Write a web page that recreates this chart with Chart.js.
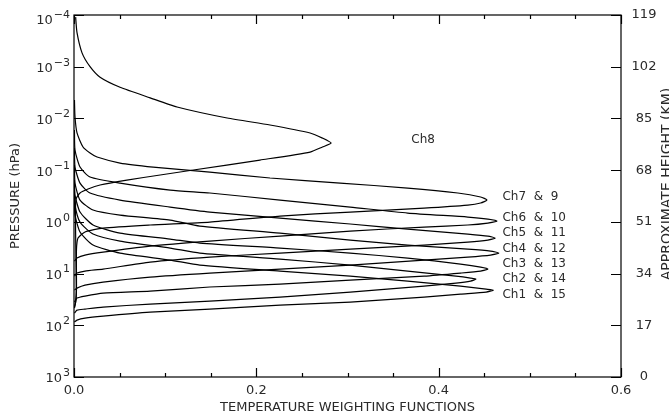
<!DOCTYPE html>
<html>
<head>
<meta charset="utf-8">
<script src="https://cdn.jsdelivr.net/npm/chart.js@4.4.1/dist/chart.umd.min.js"></script>
<style>
  html, body { margin: 0; padding: 0; background: #fff; }
  #wrap { width: 669px; height: 418px; }
</style>
</head>
<body>
<div id="wrap"><canvas id="wf" width="669" height="418"></canvas></div>
<script>
// weighting functions: pressure levels (hPa) and weights per channel group
const ch8P = [1.1e-4, 2.2e-4, 5.4e-4, 1.0e-3, 1.6e-3, 2.5e-3, 4.0e-3, 6.0e-3, 9.8e-3, 0.0134, 0.0191, 0.024, 0.030, 0.0357, 0.0447, 0.0638, 0.0995, 0.124, 0.156, 0.194, 0.232, 0.277, 0.362, 0.738, 3.51, 16.7, 32.6, 44.5];
const ch8W = [0.0018, 0.0033, 0.0088, 0.0176, 0.0286, 0.0505, 0.0835, 0.113, 0.168, 0.215, 0.259, 0.2725, 0.282, 0.2725, 0.259, 0.204, 0.131, 0.0945, 0.058, 0.0286, 0.0154, 0.0066, 0.0022, 0.0016, 0.002, 0.0025, 0.0022, 0.0005];

const ch7P = [0.0044, 0.0094, 0.0191, 0.0357, 0.0467, 0.0558, 0.0729, 0.0871, 0.109, 0.142, 0.178, 0.222, 0.277, 0.331, 0.378, 0.432, 0.473, 0.541, 0.646, 0.772, 1.01, 1.15, 1.32, 1.57, 2.06, 3.51, 20.9, 37.2, 46.5];
const ch7W = [0.0005, 0.0011, 0.0033, 0.0099, 0.0176, 0.0253, 0.0505, 0.0868, 0.149, 0.215, 0.292, 0.366, 0.421, 0.446, 0.453, 0.446, 0.432, 0.384, 0.303, 0.226, 0.149, 0.0835, 0.0319, 0.0121, 0.0044, 0.0027, 0.0027, 0.0016, 0.0005];

const ch6P = [0.0167, 0.0408, 0.0871, 0.136, 0.178, 0.243, 0.277, 0.379, 0.517, 0.676, 0.807, 0.883, 0.966, 1.055, 1.15, 1.26, 1.51, 1.88, 2.35, 2.94, 3.84, 4.39, 5.01, 5.73];
const ch6W = [0.0005, 0.0011, 0.0066, 0.0176, 0.0505, 0.1055, 0.149, 0.226, 0.303, 0.366, 0.432, 0.454, 0.464, 0.454, 0.432, 0.384, 0.303, 0.226, 0.149, 0.0835, 0.0319, 0.0121, 0.0033, 0.0005];

const ch5P = [0.0374, 0.0871, 0.178, 0.277, 0.379, 0.517, 0.646, 0.845, 1.10, 1.38, 1.72, 1.88, 2.06, 2.25, 2.46, 2.81, 3.36, 4.01, 4.80, 6.00, 8.19, 8.95, 9.78, 11.2];
const ch5W = [0.0005, 0.0011, 0.0066, 0.0176, 0.0505, 0.1055, 0.149, 0.226, 0.303, 0.366, 0.432, 0.454, 0.462, 0.454, 0.432, 0.384, 0.303, 0.226, 0.149, 0.0835, 0.0319, 0.0121, 0.0033, 0.0005];

const ch4P = [0.0796, 0.178, 0.379, 0.591, 0.738, 0.923, 1.21, 1.65, 2.25, 2.81, 3.36, 3.67, 4.02, 4.39, 4.80, 5.48, 6.85, 8.19, 9.78, 11.7, 14.6, 16.7, 19.1, 20.9];
const ch4W = [0.0005, 0.0011, 0.0066, 0.0209, 0.0505, 0.1055, 0.138, 0.226, 0.303, 0.366, 0.432, 0.457, 0.466, 0.457, 0.432, 0.384, 0.303, 0.226, 0.149, 0.0835, 0.0319, 0.0121, 0.0033, 0.0005];

const ch3P = [0.155, 0.303, 0.646, 1.15, 1.65, 2.15, 2.57, 3.21, 4.02, 5.01, 6.55, 7.48, 8.19, 8.95, 9.78, 11.2, 13.4, 16.0, 18.2, 21.8, 23.8, 27.2, 29.8, 35.6];
const ch3W = [0.0005, 0.0011, 0.0066, 0.0209, 0.0505, 0.1055, 0.138, 0.226, 0.303, 0.366, 0.424, 0.446, 0.454, 0.446, 0.424, 0.384, 0.303, 0.226, 0.149, 0.0835, 0.0319, 0.0121, 0.0033, 0.0005];

const ch2P = [0.243, 0.473, 1.01, 1.72, 2.35, 3.21, 4.02, 5.25, 6.85, 8.95, 11.2, 12.2, 12.8, 14.0, 15.3, 17.5, 22.8, 28.5, 34.0, 38.9, 44.5, 48.6, 50.8, 58.1];
const ch2W = [0.0005, 0.0011, 0.0066, 0.0209, 0.0505, 0.1055, 0.138, 0.226, 0.303, 0.366, 0.419, 0.435, 0.441, 0.435, 0.419, 0.384, 0.303, 0.226, 0.149, 0.0835, 0.0319, 0.0121, 0.0033, 0.0005];

const ch1P = [0.379, 0.738, 1.57, 2.81, 4.02, 5.48, 6.85, 8.95, 11.2, 14.0, 17.5, 20.0, 20.9, 22.8, 24.9, 28.5, 35.6, 40.6, 48.6, 55.6, 66.4, 72.6, 79.3, 86.7];
const ch1W = [0.0005, 0.0011, 0.0066, 0.0209, 0.0505, 0.1055, 0.138, 0.226, 0.303, 0.366, 0.424, 0.452, 0.460, 0.452, 0.424, 0.384, 0.303, 0.226, 0.149, 0.0835, 0.0319, 0.0121, 0.0033, 0.0005];

// channel labels and where they sit (weight, hPa)
const chLabels = ['Ch8', 'Ch7  &  9', 'Ch6  &  10', 'Ch5  &  11', 'Ch4  &  12', 'Ch3  &  13', 'Ch2  &  14', 'Ch1  &  15'];
const labelW = [0.370, 0.470, 0.470, 0.470, 0.470, 0.470, 0.470, 0.470];
const labelP = [0.0262, 0.33, 0.84, 1.65, 3.29, 6.4, 12.5, 25.5];

// axis ticks
const xMajor = [0.0, 0.2, 0.4, 0.6];
const pressureExp = [-4, -3, -2, -1, 0, 1, 2, 3];
const heightKm = [0, 17, 34, 51, 68, 85, 102, 119];

function curve(p, w) {
  return p.map((v, i) => ({ x: w[i], y: v }));
}

const curves = [
  [ch8P, ch8W], [ch7P, ch7W], [ch6P, ch6W], [ch5P, ch5W],
  [ch4P, ch4W], [ch3P, ch3W], [ch2P, ch2W], [ch1P, ch1W]
];

const FONT = 'DejaVu Sans';
const INK = '#2a2a2a';

// frame with inward ticks, tick labels, titles and channel labels
const axesPlugin = {
  id: 'axesPlugin',
  afterDatasetsDraw(chart) {
    const { ctx, chartArea: a, scales } = chart;
    const sx = scales.x, sy = scales.y, sh = scales.h;
    ctx.save();
    ctx.strokeStyle = '#000';
    ctx.lineWidth = 1.2;
    ctx.strokeRect(a.left, a.top, a.right - a.left, a.bottom - a.top);

    // x ticks, top and bottom
    ctx.beginPath();
    for (let i = 0; i <= 12; i++) {
      const v = i * 0.05;
      const px = Math.round(sx.getPixelForValue(v)) + 0.5;
      const len = (i % 4 === 0) ? 9 : 4;
      ctx.moveTo(px, a.bottom); ctx.lineTo(px, a.bottom - len);
      ctx.moveTo(px, a.top); ctx.lineTo(px, a.top + len);
    }
    // pressure ticks on the left, height ticks on the right
    pressureExp.forEach(e => {
      const py = Math.round(sy.getPixelForValue(Math.pow(10, e))) + 0.5;
      ctx.moveTo(a.left, py); ctx.lineTo(a.left + 10, py);
    });
    heightKm.forEach(v => {
      const py = Math.round(sh.getPixelForValue(v)) + 0.5;
      ctx.moveTo(a.right, py); ctx.lineTo(a.right - 10, py);
    });
    ctx.stroke();

    ctx.fillStyle = INK;
    ctx.textBaseline = 'middle';

    // x tick labels
    ctx.font = '13px "' + FONT + '"';
    ctx.textAlign = 'center';
    xMajor.forEach(v => {
      ctx.fillText(v.toFixed(1), sx.getPixelForValue(v), a.bottom + 14);
    });

    // pressure labels as powers of ten
    ctx.textAlign = 'right';
    pressureExp.forEach(e => {
      let py = sy.getPixelForValue(Math.pow(10, e));
      if (e === pressureExp[0]) py += 4;
      const ex = (e < 0 ? '\u2212' : '') + Math.abs(e);
      ctx.font = '11px "' + FONT + '"';
      ctx.fillText(ex, a.left - 4, py - 4);
      const ew = ctx.measureText(ex).width;
      ctx.font = '13px "' + FONT + '"';
      ctx.fillText('10', a.left - 5 - ew, py + 2);
    });

    // height labels
    ctx.textAlign = 'center';
    ctx.font = '13px "' + FONT + '"';
    heightKm.forEach(v => {
      ctx.fillText(String(v), a.right + 23, sh.getPixelForValue(v));
    });

    // axis titles
    ctx.fillText('TEMPERATURE WEIGHTING FUNCTIONS', (a.left + a.right) / 2, a.bottom + 31);
    ctx.save();
    ctx.translate(16, (a.top + a.bottom) / 2);
    ctx.rotate(-Math.PI / 2);
    ctx.fillText('PRESSURE (hPa)', 0, 0);
    ctx.restore();
    ctx.save();
    ctx.translate(a.right + 46, 184);
    ctx.rotate(-Math.PI / 2);
    ctx.font = '14px "' + FONT + '"';
    ctx.fillText('APPROXIMATE HEIGHT (KM)', 0, 0);
    ctx.restore();

    // channel labels
    ctx.textAlign = 'left';
    ctx.font = '12px "' + FONT + '"';
    chLabels.forEach((t, i) => {
      ctx.fillText(t, sx.getPixelForValue(labelW[i]), sy.getPixelForValue(labelP[i]));
    });
    ctx.restore();
  }
};

new Chart(document.getElementById('wf'), {
  type: 'scatter',
  data: {
    datasets: curves.map(c => ({
      data: curve(c[0], c[1]),
      showLine: true,
      borderColor: '#000',
      borderWidth: 1.2,
      pointRadius: 0,
      tension: 0.2,
      fill: false
    }))
  },
  options: {
    responsive: false,
    animation: false,
    events: [],
    layout: { padding: { left: 74, right: 48, top: 15, bottom: 41 } },
    plugins: { legend: { display: false }, tooltip: { enabled: false } },
    scales: {
      x: { type: 'linear', min: 0, max: 0.6, display: false },
      y: { type: 'logarithmic', min: 1e-4, max: 1e3, reverse: true, display: false },
      h: { type: 'linear', position: 'right', min: 0, max: 119, display: false }
    }
  },
  plugins: [axesPlugin]
});
</script>
</body>
</html>
